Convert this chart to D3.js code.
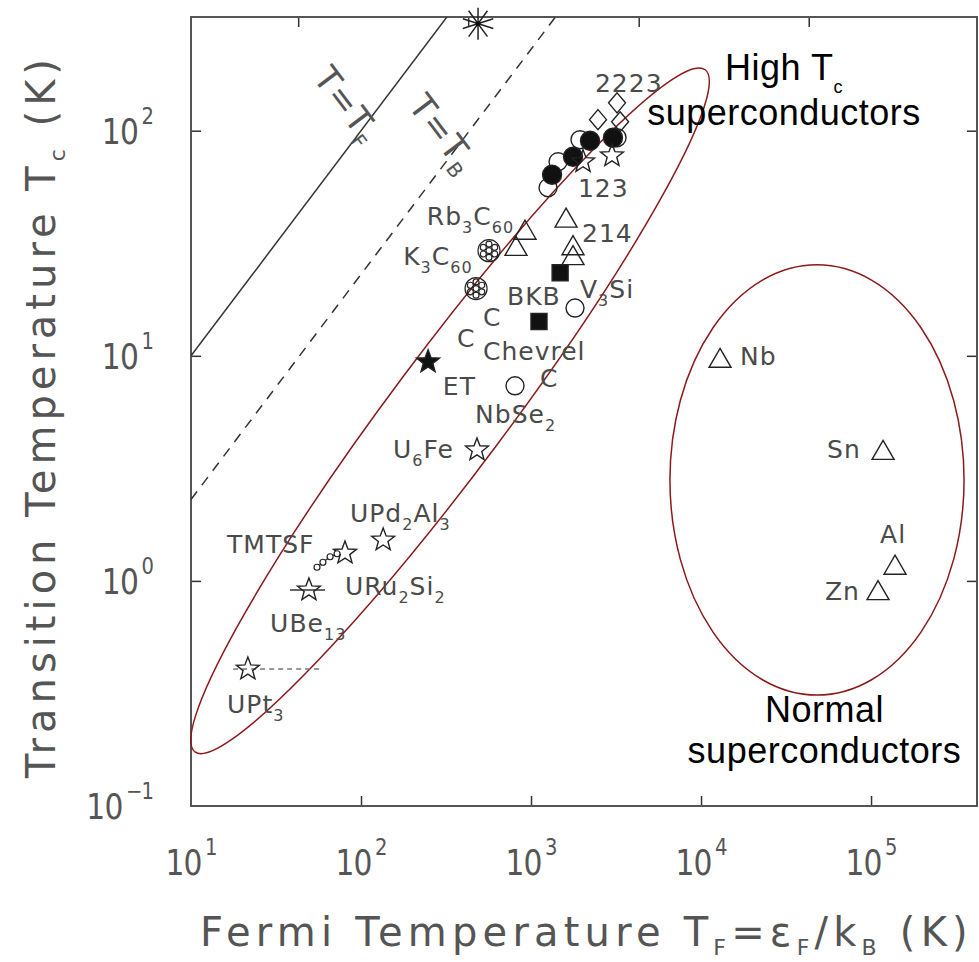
<!DOCTYPE html>
<html>
<head>
<meta charset="utf-8">
<script src="https://cdn.jsdelivr.net/npm/d3@7"></script>
<style>
body { margin: 0; background: #fff; }
</style>
</head>
<body>
<div id="chart"></div>
<script>
var svgWidth = 979;
var svgHeight = 962;

// every point is [Fermi temperature T_F (K), transition temperature T_c (K)]
var openCircles = [[1259, 55.8], [1442, 72.8], [1941, 91.2], [3206, 93.1], [1815, 16.3], [805, 7.36]];
var filledCircles = [[1330, 63.7], [1766, 76.6], [2223, 90.3], [3034, 93.1]];
var diamonds = [[2477, 112], [3206, 133], [3342, 109.6]];
var openStars = [[2023, 72.8], [2993, 77.4], [481, 3.82], [135, 1.52], [80.5, 1.33], [49.4, 0.912], [21.6, 0.406]];
var filledStars = [[248, 9.4]];
var triangles = [[922, 36.3], [1607, 41.1], [816, 30.8], [1766, 31], [1766, 28],
                 [12940, 9.8], [117700, 3.82], [138400, 1.18], [109900, 0.91]];
var squares = [[1483, 23.4], [1114, 14.2]];
var buckyballs = [[566, 29.3], [475, 19.9]];
var tmtsf = [[55.1, 1.15], [59.7, 1.21], [65.8, 1.28], [72.3, 1.32]];
var asterisks = [[488, 299]];

// horizontal ranges of T_F: [from, to, T_c, dashed]
var ranges = [[38.2, 61.4, 0.912, false], [17.7, 57.4, 0.406, true]];

// T = ratio * T_F
var refLines = [
    {ratio: 1, dashed: false, label: "T=T_{F}", at: [73.2, 121]},
    {ratio: 0.23, dashed: true, label: "T=T_{B}", at: [268, 90.3]}
];

// labels anchored at text start / baseline
var labels = [
    ["2223", 2377, 149], ["123", 1888, 50.9], ["Rb_{3}C_{60}", 244, 38.2], ["214", 1995, 32.1],
    ["K_{3}C_{60}", 177, 25.4], ["BKB", 723, 16.9], ["V_{3}Si", 1941, 18.1], ["C", 522, 13.5],
    ["C", 367, 10.9], ["Chevrel", 522, 9.6], ["C", 1130, 7.28], ["ET", 303, 6.71],
    ["NbSe_{2}", 469, 5.04], ["U_{6}Fe", 154, 3.52], ["UPd_{2}Al_{3}", 86.1, 1.83],
    ["TMTSF", 16.3, 1.33], ["URu_{2}Si_{2}", 80.5, 0.867], ["UBe_{13}", 29.2, 0.593],
    ["UPt_{3}", 16.3, 0.259], ["Nb", 16950, 9.12], ["Sn", 55100, 3.52], ["Al", 113000, 1.48],
    ["Zn", 53600, 0.824]
];

var notes = [
    ["High T_{c}", 30760, 168.6], ["superconductors", 30760, 106.4],
    ["Normal", 53200, 0.236], ["superconductors", 53200, 0.155]
];

var xTickLabels = [1e1, 1e2, 1e3, 1e4, 1e5];
var yTickLabels = [1e-1, 1e0, 1e1, 1e2];
var topTicks = [42.7, 427, 4300, 43000];

var highTcEllipse = {tipA: [10.55, 0.174], tipB: [10570, 186.6]};
var normalEllipse = {center: [48100, 2.81], decadesX: 0.865, decadesY: 0.956};

var margin = {top: 17, right: 2, bottom: 156, left: 191};
var chartWidth = svgWidth - margin.left - margin.right;
var chartHeight = svgHeight - margin.top - margin.bottom;

var svg = d3.select("#chart")
    .append("svg")
    .attr("width", svgWidth)
    .attr("height", svgHeight)
    .style("display", "block");

var chartGroup = svg.append("g")
    .attr("transform", `translate(${margin.left}, ${margin.top})`);

var xScale = d3.scaleLog().domain([10, 4.2e5]).range([0, chartWidth]);
var yScale = d3.scaleLog().domain([0.1, 320]).range([chartHeight, 0]);

var labelFont = "'DejaVu Sans', sans-serif";
var ink = "#4a4a4a";

function richText(sel, str, subSize, shift) {
    var cur = 0;
    str.split(/([_^]\{[^}]*\})/).forEach(part => {
        if (!part) return;
        var m = part.match(/^([_^])\{([^}]*)\}$/);
        var target = 0;
        var txt = part;
        if (m) {
            target = m[1] == "_" ? shift : -shift;
            txt = m[2];
        }
        var t = sel.append("tspan").attr("dy", target - cur).text(txt);
        if (m) t.attr("font-size", subSize);
        cur = target;
    });
}

svg.append("defs").append("clipPath")
    .attr("id", "plotClip")
    .append("rect")
    .attr("width", chartWidth)
    .attr("height", chartHeight);

// axes: ticks inside the frame
var bottomAxis = d3.axisBottom(xScale).tickValues(xTickLabels.slice(1)).tickSize(-10).tickFormat("");
var topAxis = d3.axisTop(xScale).tickValues(topTicks).tickSize(-10).tickFormat("");
var leftAxis = d3.axisLeft(yScale).tickValues([1, 10, 100]).tickSize(-10).tickFormat("");
var rightAxis = d3.axisRight(yScale).tickValues([1, 10, 100]).tickSize(-10).tickFormat("");

[[bottomAxis, `translate(0, ${chartHeight})`], [topAxis, "translate(0, 0)"],
 [leftAxis, "translate(0, 0)"], [rightAxis, `translate(${chartWidth}, 0)`]].forEach(a => {
    var g = chartGroup.append("g").attr("transform", a[1]).call(a[0]);
    g.select(".domain").remove();
    g.selectAll("line").attr("stroke", "#333").attr("stroke-width", 1.5);
});

chartGroup.append("rect")
    .attr("width", chartWidth)
    .attr("height", chartHeight)
    .attr("fill", "none")
    .attr("stroke", "#555")
    .attr("stroke-width", 2);

// tick labels (squeezed a little, the original digits are narrow)
xTickLabels.forEach(v => {
    var t = chartGroup.append("text")
        .attr("transform", `translate(${xScale(v)}, ${chartHeight + 69}) scale(0.85, 1)`)
        .attr("text-anchor", "middle")
        .attr("font-family", labelFont)
        .attr("font-size", 35)
        .attr("letter-spacing", -1)
        .attr("fill", "#555");
    t.append("tspan").text("10");
    t.append("tspan").attr("dy", -20).attr("dx", 4).attr("font-size", 23).text(Math.round(Math.log10(v)));
});

yTickLabels.forEach(v => {
    var e = Math.round(Math.log10(v));
    var t = chartGroup.append("text")
        .attr("transform", `translate(-38, ${yScale(v) + 13}) scale(0.85, 1)`)
        .attr("text-anchor", "end")
        .attr("font-family", labelFont)
        .attr("font-size", 35)
        .attr("letter-spacing", -1)
        .attr("fill", "#555");
    t.append("tspan").text("10");
    t.append("tspan").attr("dy", -20).attr("dx", 4).attr("font-size", 23).text(e < 0 ? "\u2212" + (-e) : e);
});

// axis titles
var xTitle = svg.append("text")
    .attr("x", 200)
    .attr("y", 946)
    .attr("font-family", labelFont)
    .attr("font-size", 40)
    .attr("letter-spacing", 5.2)
    .attr("fill", "#555");
richText(xTitle, "Fermi Temperature T_{F}=\u03b5_{F}/k_{B} (K)", 22, 9);

var yTitle = svg.append("text")
    .attr("transform", "translate(55, 416) rotate(-90)")
    .attr("text-anchor", "middle")
    .attr("font-family", labelFont)
    .attr("font-size", 40)
    .attr("letter-spacing", 5)
    .attr("fill", "#555");
richText(yTitle, "Transition Temperature T_{c} (K)", 22, 10);

// reference lines T = T_F and T = T_B
var lineGroup = chartGroup.append("g").attr("clip-path", "url(#plotClip)");
var slope = -Math.atan2(yScale(1) - yScale(10), xScale(100) - xScale(10)) * 180 / Math.PI;

refLines.forEach(l => {
    var xd = xScale.domain();
    var line = d3.line().x(d => xScale(d)).y(d => yScale(d * l.ratio));
    lineGroup.append("path")
        .datum([xd[0], xd[1]])
        .attr("d", line)
        .attr("fill", "none")
        .attr("stroke", "#333")
        .attr("stroke-width", 1.5)
        .attr("stroke-dasharray", l.dashed ? "10,8" : null);

    var t = chartGroup.append("text")
        .attr("transform", `translate(${xScale(l.at[0])}, ${yScale(l.at[1])}) rotate(${-slope})`)
        .attr("text-anchor", "middle")
        .attr("dy", "0.35em")
        .attr("font-family", labelFont)
        .attr("font-size", 34)
        .attr("letter-spacing", 1)
        .attr("fill", "#555");
    richText(t, l.label, 20, 8);
});

// ellipses
var ellipseColor = "#8b1a1a";
var ax = xScale(highTcEllipse.tipA[0]), ay = yScale(highTcEllipse.tipA[1]);
var bx = xScale(highTcEllipse.tipB[0]), by = yScale(highTcEllipse.tipB[1]);
chartGroup.append("ellipse")
    .attr("cx", 0).attr("cy", 0)
    .attr("rx", Math.hypot(bx - ax, by - ay) / 2)
    .attr("ry", 58)
    .attr("transform", `translate(${(ax + bx) / 2}, ${(ay + by) / 2}) rotate(${Math.atan2(by - ay, bx - ax) * 180 / Math.PI})`)
    .attr("fill", "none")
    .attr("stroke", ellipseColor)
    .attr("stroke-width", 1.5);

var nc = normalEllipse.center;
chartGroup.append("ellipse")
    .attr("cx", xScale(nc[0]))
    .attr("cy", yScale(nc[1]))
    .attr("rx", xScale(nc[0] * Math.pow(10, normalEllipse.decadesX)) - xScale(nc[0]))
    .attr("ry", yScale(nc[1]) - yScale(nc[1] * Math.pow(10, normalEllipse.decadesY)))
    .attr("fill", "none")
    .attr("stroke", ellipseColor)
    .attr("stroke-width", 1.5);

// symbol shapes
function starPath(R) {
    var pts = [];
    for (var i = 0; i < 10; i++) {
        var a = -Math.PI / 2 + i * Math.PI / 5;
        var r = i % 2 ? R * 0.42 : R;
        pts.push([r * Math.cos(a), r * Math.sin(a)]);
    }
    return "M" + pts.join("L") + "Z";
}
var trianglePath = "M0,-9.5L11,9.5L-11,9.5Z";
var diamondPath = "M0,-10L8.5,0L0,10L-8.5,0Z";
var squarePath = "M-8,-8H8V8H-8Z";
var circlePath = r => `M${r},0A${r},${r} 0 1,1 ${-r},0A${r},${r} 0 1,1 ${r},0Z`;

var symbolGroup = chartGroup.append("g");
var pos = d => `translate(${xScale(d[0])}, ${yScale(d[1])})`;

function drawSymbols(data, d, filled) {
    symbolGroup.selectAll(null)
        .data(data)
        .enter()
        .append("path")
        .attr("d", d)
        .attr("transform", pos)
        .attr("fill", filled ? "#111" : "none")
        .attr("stroke", "#222")
        .attr("stroke-width", 1.4);
}

// ranges behind the points
ranges.forEach(r => {
    symbolGroup.append("line")
        .attr("x1", xScale(r[0]))
        .attr("x2", xScale(r[1]))
        .attr("y1", yScale(r[2]))
        .attr("y2", yScale(r[2]))
        .attr("stroke", r[3] ? "#777" : "#333")
        .attr("stroke-width", 1.5)
        .attr("stroke-dasharray", r[3] ? "5,4" : null);
});

drawSymbols(openCircles, circlePath(9), false);
drawSymbols(filledCircles, circlePath(9.5), true);
drawSymbols(diamonds, diamondPath, false);
drawSymbols(openStars, starPath(12), false);
drawSymbols(filledStars, starPath(12), true);
drawSymbols(triangles, trianglePath, false);
drawSymbols(squares, squarePath, true);

// C60 balls
var balls = symbolGroup.selectAll(null)
    .data(buckyballs)
    .enter()
    .append("g")
    .attr("transform", pos)
    .attr("fill", "none")
    .attr("stroke", "#222")
    .attr("stroke-width", 1.2);
balls.append("circle").attr("r", 11);
balls.append("circle").attr("r", 3);
d3.range(6).forEach(i => {
    var a = i * Math.PI / 3 + Math.PI / 6;
    balls.append("circle")
        .attr("cx", 6.6 * Math.cos(a))
        .attr("cy", 6.6 * Math.sin(a))
        .attr("r", 3);
});

// TMTSF chain
symbolGroup.append("path")
    .datum(tmtsf)
    .attr("d", d3.line().x(d => xScale(d[0])).y(d => yScale(d[1])))
    .attr("fill", "none")
    .attr("stroke", "#222")
    .attr("stroke-width", 1.2);
symbolGroup.selectAll(null)
    .data(tmtsf)
    .enter()
    .append("circle")
    .attr("cx", d => xScale(d[0]))
    .attr("cy", d => yScale(d[1]))
    .attr("r", 3)
    .attr("fill", "#fff")
    .attr("stroke", "#222")
    .attr("stroke-width", 1.2);

// asterisk
var ast = symbolGroup.selectAll(null)
    .data(asterisks)
    .enter()
    .append("g")
    .attr("transform", pos);
[90, 54, 126, 18, 162].forEach(deg => {
    var a = deg * Math.PI / 180;
    ast.append("line")
        .attr("x1", 16 * Math.cos(a)).attr("y1", 16 * Math.sin(a))
        .attr("x2", -16 * Math.cos(a)).attr("y2", -16 * Math.sin(a))
        .attr("stroke", "#222")
        .attr("stroke-width", 1.5);
});
ast.append("circle").attr("r", 2.5).attr("fill", "#111");

// material labels
labels.forEach(l => {
    var t = chartGroup.append("text")
        .attr("x", xScale(l[1]))
        .attr("y", yScale(l[2]))
        .attr("font-family", labelFont)
        .attr("font-size", 25)
        .attr("letter-spacing", 1)
        .attr("fill", ink);
    richText(t, l[0], 16, 8);
});

// annotations
notes.forEach(n => {
    var t = chartGroup.append("text")
        .attr("x", xScale(n[1]))
        .attr("y", yScale(n[2]))
        .attr("text-anchor", "middle")
        .attr("font-family", "'Liberation Sans', Arial, sans-serif")
        .attr("font-size", 36)
        .attr("letter-spacing", 0.5)
        .attr("fill", "#000");
    richText(t, n[0], 18, 13);
});
</script>
</body>
</html>
